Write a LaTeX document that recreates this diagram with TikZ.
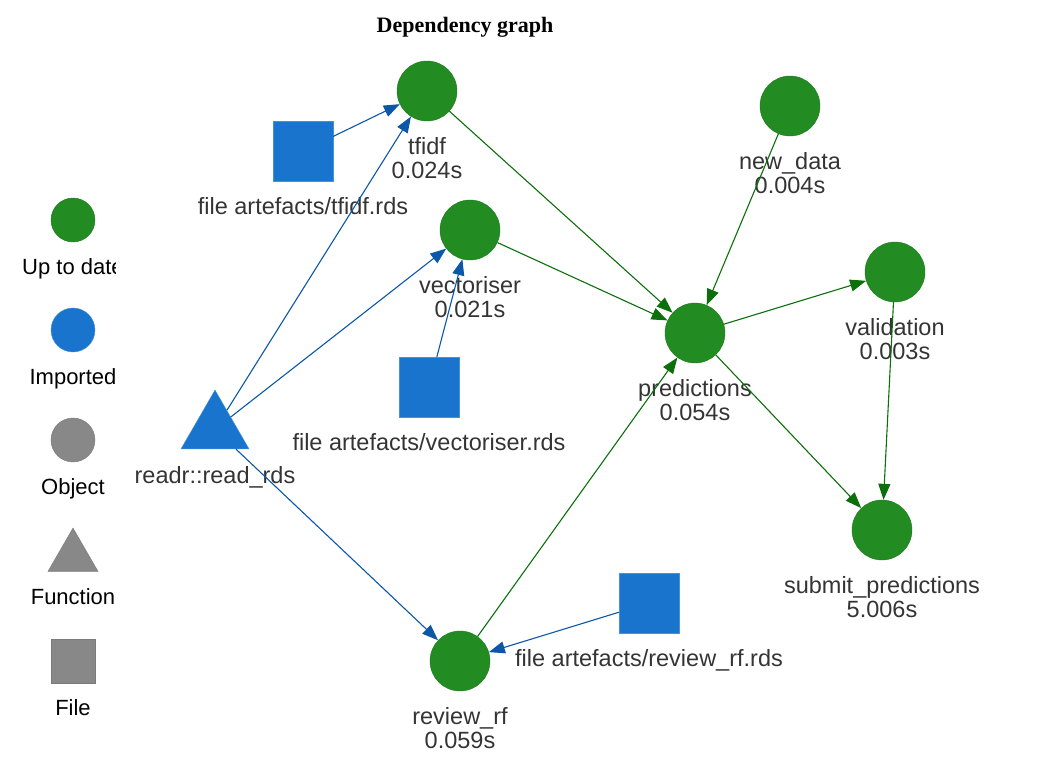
\documentclass[tikz,border=0pt]{standalone}
\usepackage{fontspec}
\setmainfont{Liberation Sans}
\newfontfamily\titlefont{Liberation Serif}
\usetikzlibrary{positioning, shapes, arrows.meta}

\definecolor{uptodate}{HTML}{228B22}
\definecolor{uptodateline}{HTML}{1C7A1C}
\definecolor{imported}{HTML}{1874CD}
\definecolor{importedline}{HTML}{4A90D9}
\definecolor{legendgrey}{HTML}{888888}
\definecolor{greenedge}{HTML}{0B700B}
\definecolor{blueedge}{HTML}{0B57A8}
\definecolor{lbltext}{HTML}{343434}

\begin{document}
\begin{tikzpicture}[
            x=1pt, y=-1pt,
            label distance=16.5pt,
            lbl/.style={align=center, text=lbltext, inner sep=0pt, font=\fontsize{23.5}{24}\selectfont},
            keylbl/.style={align=center, text=black, inner sep=0pt, font=\fontsize{22}{24}\selectfont},
            target/.style={circle, draw=uptodateline, fill=uptodate, minimum size=60pt, inner sep=0pt},
            import/.style={rectangle, draw=importedline, fill=imported, minimum size=60pt, inner sep=0pt},
            func/.style={regular polygon, regular polygon sides=3, draw=importedline, fill=imported, minimum size=78.5pt, inner sep=0pt},
            greenarrow/.style={draw=greenedge, line width=1.1pt, -{Triangle[length=16pt, width=12pt]}},
            bluearrow/.style={draw=blueedge, line width=1.1pt, -{Triangle[length=16pt, width=12pt]}},
        ]
            \useasboundingbox (0,0) rectangle (1050,760);

            % title
            \node[anchor=base, font=\titlefont\bfseries\fontsize{22}{24}\selectfont] (title) at (465,33) {Dependency graph};

            % legend
            \begin{scope}[label distance=15pt]
                \clip (0,0) rectangle (115,760);
                \node[circle, draw=uptodateline, fill=uptodate, minimum size=44pt, inner sep=0pt,
                      label={[keylbl]below:\strut Up to date}] (keyuptodate) at (73,220) {};
                \node[circle, draw=importedline, fill=imported, minimum size=44pt, inner sep=0pt,
                      label={[keylbl]below:\strut Imported}] (keyimported) at (73,330) {};
                \node[circle, draw=legendgrey!90!black, fill=legendgrey, minimum size=44pt, inner sep=0pt,
                      label={[keylbl]below:\strut Object}] (keyobject) at (73,440) {};
                \node[regular polygon, regular polygon sides=3, draw=legendgrey!90!black, fill=legendgrey, minimum size=57.7pt, inner sep=0pt,
                      label={[keylbl, label distance=16pt]below:\strut Function}] (keyfunction) at (73,556.9) {};
                \node[rectangle, draw=legendgrey!90!black, fill=legendgrey, minimum size=44pt, inner sep=0pt,
                      label={[keylbl]below:\strut File}] (keyfile) at (73,661) {};
            \end{scope}

            % imports
            \node[func, label={[lbl, label distance=17pt]below:\strut readr::read\_rds}] (readrds) at (215,429.3) {};
            \node[import, label={[lbl]below:\strut file artefacts/tfidf.rds}] (filetfidf) at (303,151) {};
            \node[import, label={[lbl]below:\strut file artefacts/vectoriser.rds}] (filevectoriser) at (429,387) {};
            \node[import, label={[lbl]below:\strut file artefacts/review\_rf.rds}] (filereviewrf) at (649,603) {};

            % targets
            \node[target, label={[lbl]below:\strut tfidf\\0.024s}] (tfidf) at (427,91) {};
            \node[target, label={[lbl]below:\strut vectoriser\\0.021s}] (vectoriser) at (470,230) {};
            \node[target, label={[lbl]below:\strut new\_data\\0.004s}] (newdata) at (790,106) {};
            \node[target, label={[lbl]below:\strut predictions\\0.054s}] (predictions) at (695,333) {};
            \node[target, label={[lbl]below:\strut validation\\0.003s}] (validation) at (895,272) {};
            \node[target, label={[lbl]below:\strut submit\_predictions\\5.006s}] (submit) at (882,530) {};
            \node[target, label={[lbl]below:\strut review\_rf\\0.059s}] (reviewrf) at (460,661) {};

            % imported edges
            \draw[bluearrow] (filetfidf) -- (tfidf);
            \draw[bluearrow] (readrds) -- (tfidf);
            \draw[bluearrow] (readrds) -- (vectoriser);
            \draw[bluearrow] (filevectoriser) -- (vectoriser);
            \draw[bluearrow] (readrds) -- (reviewrf);
            \draw[bluearrow] (filereviewrf) -- (reviewrf);

            % target edges
            \draw[greenarrow] (tfidf) -- (predictions);
            \draw[greenarrow] (vectoriser) -- (predictions);
            \draw[greenarrow] (newdata) -- (predictions);
            \draw[greenarrow] (reviewrf) -- (predictions);
            \draw[greenarrow] (predictions) -- (validation);
            \draw[greenarrow] (predictions) -- (submit);
            \draw[greenarrow] (validation) -- (submit);
        \end{tikzpicture}
\end{document}
